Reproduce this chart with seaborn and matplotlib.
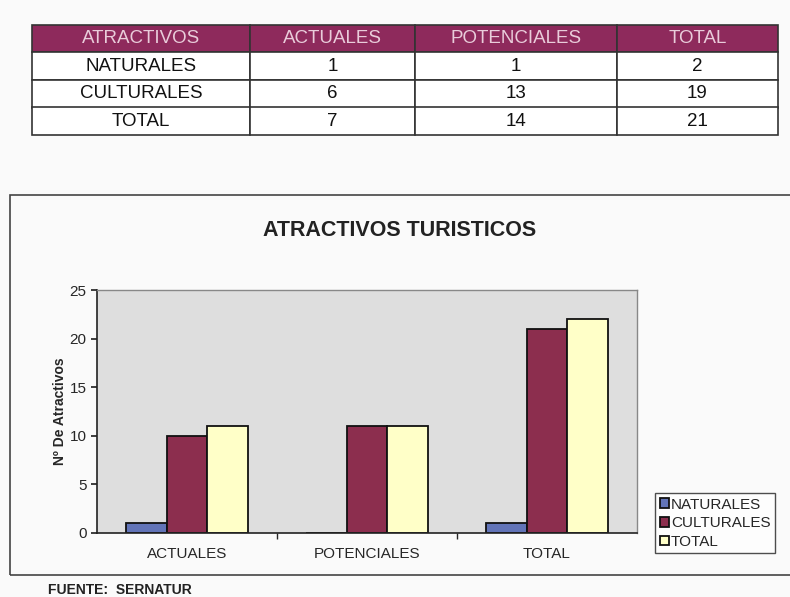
import matplotlib
matplotlib.use("Agg")
import matplotlib.pyplot as plt
from matplotlib.patches import Rectangle
import pandas as pd
import seaborn as sns

# table values
table_header = ["ATRACTIVOS", "ACTUALES", "POTENCIALES", "TOTAL"]
table_rows = ["NATURALES", "CULTURALES", "TOTAL"]
table_actuales = [1, 6, 7]
table_potenciales = [1, 13, 14]
table_total = [2, 19, 21]

# chart values (as drawn in the chart)
grupos = ["ACTUALES", "POTENCIALES", "TOTAL"]
series = ["NATURALES", "CULTURALES", "TOTAL"]
naturales = [1, 0, 1]
culturales = [10, 11, 21]
total = [11, 11, 22]
yticks = [0, 5, 10, 15, 20, 25]

colores = ["#6274B8", "#8C2E4E", "#FFFFC8"]

sns.set_theme(style="white")
plt.rcParams["font.family"] = ["Liberation Sans", "DejaVu Sans"]

fig = plt.figure(figsize=(7.9, 5.97), dpi=100)
fig.patch.set_facecolor("#FAFAFA")

W, H = 790, 597


def fbox(x0, y0, x1, y1):
    return [x0 / W, 1 - y1 / H, (x1 - x0) / W, (y1 - y0) / H]


#% table
tax = fig.add_axes(fbox(32, 25, 778, 135))
tax.axis("off")
cells = [[r, str(a), str(p), str(t)] for r, a, p, t in
         zip(table_rows, table_actuales, table_potenciales, table_total)]
cw = [218, 165, 202, 161]
tb = tax.table(cellText=cells, colLabels=table_header, cellLoc="center",
               colWidths=[c / sum(cw) for c in cw], bbox=[0, 0, 1, 1])
tb.auto_set_font_size(False)
for (r, c), cell in tb.get_celld().items():
    cell.set_edgecolor("#333333")
    cell.set_linewidth(1.2)
    cell.get_text().set_fontsize(13.5)
    if r == 0:
        cell.set_facecolor("#8E2A5C")
        cell.get_text().set_color("#E9CCDA")
    else:
        cell.set_facecolor("white")
        cell.get_text().set_color("#111111")

#% chart frame and title
fig.patches.append(Rectangle((10 / W, 1 - 575 / H), 800 / W, 380 / H,
                             transform=fig.transFigure, fill=False,
                             edgecolor="#444444", linewidth=1.2))
fig.text(400 / W, 1 - 230 / H, "ATRACTIVOS TURISTICOS", ha="center",
         va="center", fontsize=15.5, fontweight="bold", color="#222222")

#% bar chart
df = pd.DataFrame({
    "grupo": grupos * 3,
    "tipo": [s for s in series for _ in grupos],
    "valor": naturales + culturales + total,
})

ax = fig.add_axes(fbox(97, 290, 637, 533))
ax.set_facecolor("#DEDEDE")
sns.barplot(data=df, x="grupo", y="valor", hue="tipo", hue_order=series,
            palette=colores, saturation=1, width=0.68, edgecolor="#111111",
            linewidth=1.3, ax=ax, legend=True)

ax.set_ylim(0, 25)
ax.set_yticks(yticks)
ax.set_xlim(-0.5, 2.5)
ax.set_xlabel("")
ax.set_ylabel("Nº De Atractivos", fontsize=10, fontweight="bold", labelpad=2)
ax.tick_params(axis="y", labelsize=11, length=4, direction="out", left=True)
ax.tick_params(axis="x", labelsize=11, length=0, pad=10)
ax.set_xticks([0.5, 1.5], minor=True)
ax.tick_params(axis="x", which="minor", length=4, direction="out", bottom=True)
for s in ["left", "bottom"]:
    ax.spines[s].set_color("#222222")
    ax.spines[s].set_linewidth(1.2)
for s in ["top", "right"]:
    ax.spines[s].set_color("#888888")
    ax.spines[s].set_linewidth(1.0)

handles, labels = ax.get_legend_handles_labels()
ax.legend_.remove()
leg = fig.legend(handles, labels, loc="upper left",
                 bbox_to_anchor=(655 / W, 1 - 493 / H), fontsize=11,
                 frameon=True, fancybox=False, edgecolor="#222222",
                 handlelength=0.6, handleheight=0.6, handletextpad=0.15,
                 labelspacing=0.3, borderpad=0.3, borderaxespad=0)
leg.get_frame().set_linewidth(1.0)
leg.get_frame().set_facecolor("white")

fig.text(48 / W, 1 - 590 / H, "FUENTE:  SERNATUR", ha="left", va="center",
         fontsize=10, fontweight="bold", color="#222222")

fig.savefig("out.png", dpi=100)
